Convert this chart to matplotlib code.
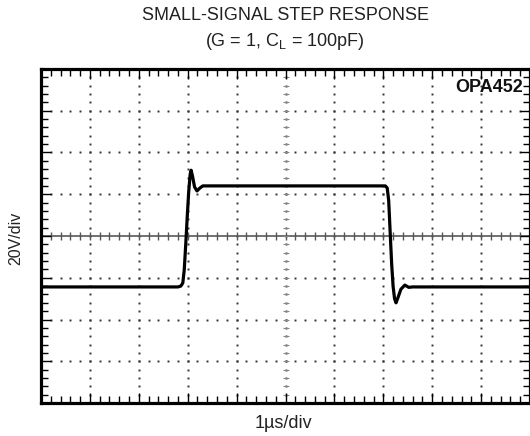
"""Small-signal step response scope trace (OPA452, G = 1, CL = 100pF)."""

import matplotlib

matplotlib.use("Agg")
import matplotlib.pyplot as plt
import numpy as np
from matplotlib.ticker import MultipleLocator

plt.rcParams["font.family"] = ["Liberation Sans", "DejaVu Sans"]

# trace: time in us (1us/div), amplitude in 20/div units
time_us = [0.0, 2.80, 2.86, 2.90, 2.93, 2.96, 2.99, 3.02, 3.05, 3.07, 3.10,
           3.14, 3.19, 3.25, 3.31, 3.40, 7.04, 7.08, 7.11, 7.14, 7.17, 7.20,
           7.23, 7.26, 7.30, 7.36, 7.44, 7.52, 7.60, 10.0]
trace = [-24.4, -24.4, -24.0, -22.5, -16.0, -4.0, 9.0, 21.0, 29.5, 31.5, 28.5,
         23.5, 21.6, 23.0, 24.0, 24.0, 24.0, 23.0, 17.0, 2.0, -13.0, -24.0,
         -30.0, -32.0, -29.5, -25.5, -23.5, -24.6, -24.4, -24.4]

x_divs = 10
y_divs = 8
volts_per_div = 20

title_lines = ["SMALL-SIGNAL STEP RESPONSE", r"(G = 1, C$_\mathregular{L}$ = 100pF)"]
part_label = "OPA452"
x_label = "1\u00b5s/div"
y_label = "20V/div"

fig = plt.figure(figsize=(5.30, 4.36), dpi=100)
ax = fig.add_axes([41 / 530, 33 / 436, 489 / 530, 334 / 436])

xmax = x_divs
ymax = y_divs / 2 * volts_per_div
ax.set_xlim(0, xmax)
ax.set_ylim(-ymax, ymax)

# dotted graticule: dots at every fifth of a division
minor_x = np.arange(0, xmax + 1e-9, 0.2)
minor_y = np.arange(-ymax, ymax + 1e-9, volts_per_div / 5)
for gx in range(1, x_divs):
    ax.plot(np.full_like(minor_y, gx), minor_y, ls="none", marker="s",
            ms=1.4, mew=0, color="#333333", zorder=1)
for gy in np.arange(-ymax + volts_per_div, ymax, volts_per_div):
    if abs(gy) < 1e-9:
        continue
    ax.plot(minor_x, np.full_like(minor_x, gy), ls="none", marker="s",
            ms=1.4, mew=0, color="#333333", zorder=1)

# centre crosshair with minor ticks
ax.axhline(0, color="#666666", lw=1.3, zorder=1)
ax.plot(minor_x, np.zeros_like(minor_x), ls="none", marker="|", ms=6,
        mew=1.0, color="#555555", zorder=1)
ax.plot(np.full_like(minor_y, xmax / 2), minor_y, ls="none", marker="_", ms=4,
        mew=0.8, color="#888888", zorder=1)

ax.plot(time_us, trace, color="black", lw=2.3, solid_joinstyle="round",
        solid_capstyle="round", zorder=3)

# frame ticks pointing inward on all four sides
ax.xaxis.set_major_locator(MultipleLocator(1))
ax.xaxis.set_minor_locator(MultipleLocator(0.2))
ax.yaxis.set_major_locator(MultipleLocator(volts_per_div))
ax.yaxis.set_minor_locator(MultipleLocator(volts_per_div / 5))
ax.tick_params(which="both", direction="in", top=True, right=True,
               labelbottom=False, labelleft=False, color="black", width=1.0)
ax.tick_params(which="major", length=7)
ax.tick_params(which="minor", length=5)
for side in ax.spines.values():
    side.set_linewidth(2.3)
    side.set_color("black")

ax.text(0.985, 0.945, part_label, transform=ax.transAxes, ha="right",
        va="center", fontsize=13, fontweight="bold", color="#111111")

fig.text(285 / 530, 1 - 16 / 436, title_lines[0], ha="center", va="center",
         fontsize=13, color="#222222")
fig.text(285 / 530, 1 - 41 / 436, title_lines[1], ha="center", va="center",
         fontsize=13, color="#222222")
fig.text(283 / 530, 1 - 423 / 436, x_label, ha="center", va="center",
         fontsize=13, color="#222222")
fig.text(16 / 530, 1 - 238 / 436, y_label, ha="center", va="center",
         rotation=90, fontsize=11.5, color="#222222")

fig.savefig("out.png", dpi=100)
